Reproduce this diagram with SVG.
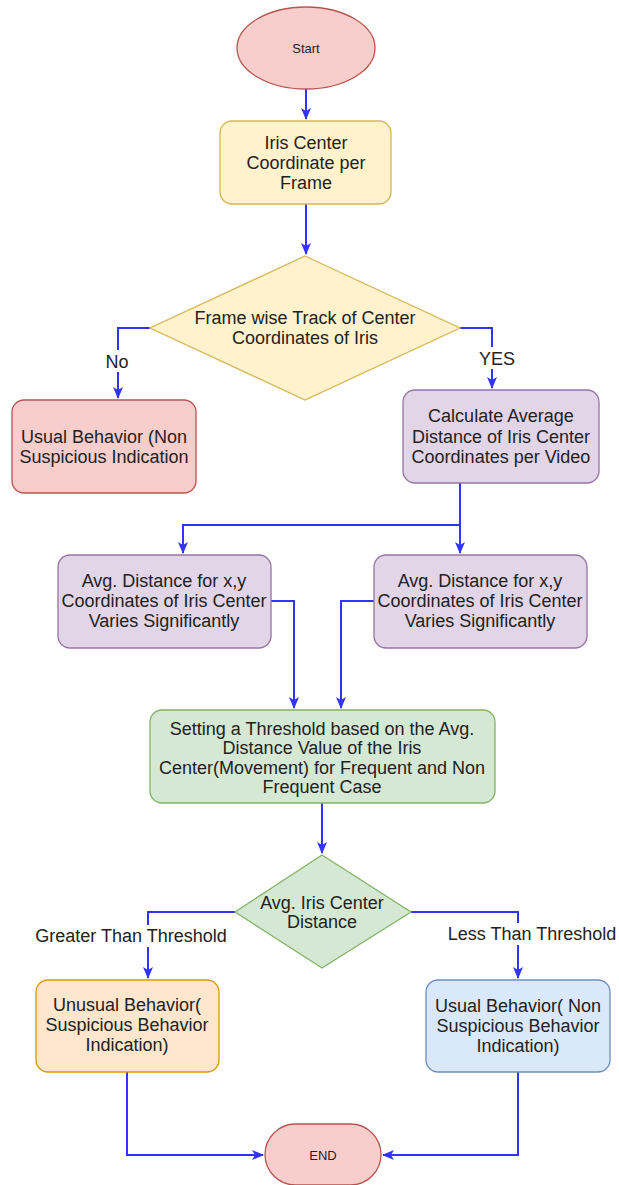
<svg xmlns="http://www.w3.org/2000/svg" width="619" height="1185" viewBox="0 0 619 1185">
<defs>
<marker id="arr" viewBox="0 0 12 12" refX="11" refY="6" markerWidth="12" markerHeight="12" markerUnits="userSpaceOnUse" orient="auto">
<path d="M0,1 L12,6 L0,11 L3,6 Z" fill="#3333ff"/>
</marker>
<style>
.t{font-family:"Liberation Sans",Arial,sans-serif;font-size:18px;fill:#222;text-anchor:middle}
.s{font-size:13px}
.c{fill:none;stroke:#3333ff;stroke-width:2}
.red{fill:#f8cecc;stroke:#b85450;stroke-width:1.3}
.yel{fill:#fff2cc;stroke:#d6b656;stroke-width:1.3}
.pur{fill:#e1d5e7;stroke:#9673a6;stroke-width:1.3}
.grn{fill:#d5e8d4;stroke:#82b366;stroke-width:1.3}
.org{fill:#ffe6cc;stroke:#d79b00;stroke-width:1.3}
.blu{fill:#dae8fc;stroke:#6c8ebf;stroke-width:1.3}
</style>
</defs>
<rect width="619" height="1185" fill="#fff"/>
<g id="connectors">
<path class="c" d="M306,89 V119" marker-end="url(#arr)"/>
<path class="c" d="M306,204 V254" marker-end="url(#arr)"/>
<path class="c" d="M150,328 H118 V398" marker-end="url(#arr)"/>
<path class="c" d="M460,328 H492 V388" marker-end="url(#arr)"/>
<path class="c" d="M460,483 V553" marker-end="url(#arr)"/>
<path class="c" d="M460,525 H183 V553" marker-end="url(#arr)"/>
<path class="c" d="M271,601 H294 V708" marker-end="url(#arr)"/>
<path class="c" d="M374,601 H341 V708" marker-end="url(#arr)"/>
<path class="c" d="M322,803 V853" marker-end="url(#arr)"/>
<path class="c" d="M235,912 H148 V978" marker-end="url(#arr)"/>
<path class="c" d="M411,912 H518 V978" marker-end="url(#arr)"/>
<path class="c" d="M127,1072 V1155 H263" marker-end="url(#arr)"/>
<path class="c" d="M518,1072 V1155 H383" marker-end="url(#arr)"/>
<rect x="104" y="350" width="28" height="22" fill="#fff"/>
<text class="t" x="117" y="368">No</text>
<rect x="476" y="347" width="42" height="22" fill="#fff"/>
<text class="t" x="497" y="365">YES</text>
<rect x="32" y="925" width="198" height="22" fill="#fff"/>
<text class="t" x="131" y="942">Greater Than Threshold</text>
<rect x="444" y="923" width="176" height="22" fill="#fff"/>
<text class="t" x="532" y="940">Less Than Threshold</text>
</g>
<g id="start">
<ellipse class="red" cx="306" cy="48" rx="69" ry="41"/>
<text class="t s" x="306" y="53">Start</text>
</g>
<g id="iris-center">
<rect class="yel" x="220" y="121" width="171" height="83" rx="12"/>
<text class="t" x="306" y="149">Iris Center</text>
<text class="t" x="306" y="169">Coordinate per</text>
<text class="t" x="306" y="189">Frame</text>
</g>
<g id="track-decision">
<polygon class="yel" points="305,256 460,328 305,400 150,328"/>
<text class="t" x="305" y="324">Frame wise Track of Center</text>
<text class="t" x="305" y="344">Coordinates of Iris</text>
</g>
<g id="usual-1">
<rect class="red" x="12" y="400" width="184" height="93" rx="12"/>
<text class="t" x="104" y="443">Usual Behavior (Non</text>
<text class="t" x="104" y="463">Suspicious Indication</text>
</g>
<g id="calculate">
<rect class="pur" x="403" y="390" width="196" height="93" rx="12"/>
<text class="t" x="501" y="422">Calculate Average</text>
<text class="t" x="501" y="443">Distance of Iris Center</text>
<text class="t" x="501" y="463">Coordinates per Video</text>
</g>
<g id="avg-left">
<rect class="pur" x="58" y="555" width="213" height="93" rx="12"/>
<text class="t" x="164" y="587">Avg. Distance for x,y</text>
<text class="t" x="164" y="607">Coordinates of Iris Center</text>
<text class="t" x="164" y="627">Varies Significantly</text>
</g>
<g id="avg-right">
<rect class="pur" x="374" y="555" width="213" height="93" rx="12"/>
<text class="t" x="480" y="587">Avg. Distance for x,y</text>
<text class="t" x="480" y="607">Coordinates of Iris Center</text>
<text class="t" x="480" y="627">Varies Significantly</text>
</g>
<g id="threshold">
<rect class="grn" x="150" y="710" width="345" height="93" rx="12"/>
<text class="t" x="322" y="735">Setting a Threshold based on the Avg.</text>
<text class="t" x="322" y="754">Distance Value of the Iris</text>
<text class="t" x="322" y="774">Center(Movement) for Frequent and Non</text>
<text class="t" x="322" y="793">Frequent Case</text>
</g>
<g id="avg-decision">
<polygon class="grn" points="322,855 411,912 322,968 235,912"/>
<text class="t" x="322" y="909">Avg. Iris Center</text>
<text class="t" x="322" y="928">Distance</text>
</g>
<g id="unusual">
<rect class="org" x="36" y="980" width="183" height="92" rx="12"/>
<text class="t" x="127" y="1011">Unusual Behavior(</text>
<text class="t" x="127" y="1031">Suspicious Behavior</text>
<text class="t" x="127" y="1051">Indication)</text>
</g>
<g id="usual-2">
<rect class="blu" x="426" y="980" width="184" height="92" rx="12"/>
<text class="t" x="518" y="1012">Usual Behavior( Non</text>
<text class="t" x="518" y="1032">Suspicious Behavior</text>
<text class="t" x="518" y="1052">Indication)</text>
</g>
<g id="end">
<rect class="red" x="265" y="1124" width="116" height="61" rx="30.5" stroke-width="2"/>
<text class="t s" x="323" y="1160">END</text>
</g>
</svg>
